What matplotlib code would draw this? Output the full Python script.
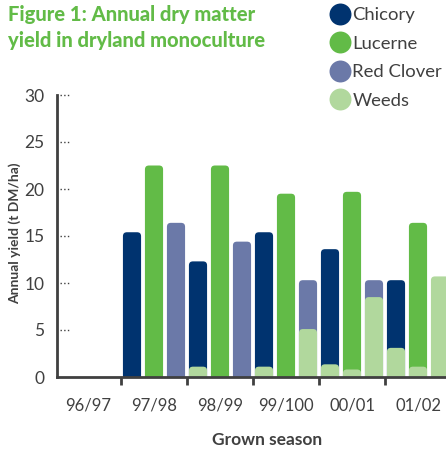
import matplotlib.pyplot as plt
import numpy as np
from matplotlib.patches import FancyBboxPatch
from matplotlib.lines import Line2D

plt.rcParams['font.family'] = ['Lato', 'DejaVu Sans']

# data (t DM/ha)
seasons = ['96/97', '97/98', '98/99', '99/100', '00/01', '01/02']
chicory = [0, 15.4, 12.3, 15.4, 13.6, 10.3]
lucerne = [0, 22.5, 22.5, 19.5, 19.7, 16.4]
red_clover = [0, 16.4, 14.4, 10.3, 10.3, 0]
# weeds measured in each crop plot, drawn over the base of that bar
weeds_chicory = [0, 0, 1.1, 1.1, 1.35, 3.1]
weeds_lucerne = [0, 0, 0, 0, 0.8, 1.1]
weeds_clover = [0, 0, 0, 5.1, 8.5, 10.7]

c_chic = '#00336f'
c_luc = '#62bb47'
c_rc = '#6b79a8'
c_weed = '#b1d89d'
grey = '#404040'

fig = plt.figure(figsize=(4.46, 4.49), dpi=100)
ax = fig.add_axes([57/446, 72/449, 389/446, 282/449])

x = np.arange(len(seasons))
w = 0.275
aspect = (30 / 282) / (1 / 66)  # data-y per data-x for equal pixel rounding


def rbar(xc, h, color):
    if h <= 0:
        return
    p = FancyBboxPatch((xc - w/2, -2), w, h + 2,
                       boxstyle='round,pad=0,rounding_size=0.06',
                       mutation_aspect=aspect, fc=color, ec='none',
                       clip_on=True, zorder=2)
    ax.add_patch(p)


crops = [(chicory, weeds_chicory, c_chic),
         (lucerne, weeds_lucerne, c_luc),
         (red_clover, weeds_clover, c_rc)]
for k, (vals, wvals, col) in enumerate(crops):
    for i in range(len(seasons)):
        xc = x[i] + (k + 0.5) / 3
        rbar(xc, vals[i], col)
        rbar(xc, wvals[i], c_weed)

ax.set_xlim(1 - 64/66, 1 + 325/66)
ax.set_ylim(0, 30)

for s in ['top', 'right']:
    ax.spines[s].set_visible(False)
for s in ['left', 'bottom']:
    ax.spines[s].set_color(grey)
    ax.spines[s].set_linewidth(2)
    ax.spines[s].set_zorder(3)

yt = np.arange(0, 31, 5)
ax.set_yticks(yt)
ax.set_yticklabels([str(v) for v in yt], fontsize=12.5, color=grey)
ax.tick_params(axis='y', length=0, pad=9)
for v in yt[1:]:
    ax.plot([0.008, 0.03], [v, v], ls=':', lw=1, color=grey,
            transform=ax.get_yaxis_transform(), clip_on=False)

ax.set_xticks(x + 0.5)
ax.set_xticklabels(seasons, fontsize=12, color=grey)
ax.set_xticks(x[1:], minor=True)
ax.tick_params(axis='x', which='major', length=0, pad=15)
ax.tick_params(axis='x', which='minor', length=6, width=2, color=grey)

ax.set_ylabel('Annual yield (t DM/ha)', fontsize=10, fontweight='bold',
              color=grey, va='center')
ax.yaxis.set_label_coords((15 - 57) / 389, (377 - 233) / 282)
ax.set_xlabel('Grown season', fontsize=12.5, fontweight='bold', color=grey,
              va='center')
ax.xaxis.set_label_coords((267 - 57) / 389, -(440 - 377) / 282)

fig.text(8/446, 1 - 15/449, 'Figure 1: Annual dry matter', fontsize=14.5,
         fontweight='black', color=c_luc, va='center')
fig.text(8/446, 1 - 41/449, 'yield in dryland monoculture', fontsize=14.5,
         fontweight='black', color=c_luc, va='center')

handles = [Line2D([], [], ls='none', marker='o', ms=15.8, mfc=c, mec='none')
           for c in [c_chic, c_luc, c_rc, c_weed]]
fig.legend(handles, ['Chicory', 'Lucerne', 'Red Clover', 'Weeds'],
           loc='upper left', bbox_to_anchor=(320/446, 1.005), frameon=False,
           fontsize=13.3, labelcolor=grey, handletextpad=0.1,
           handlelength=1.15, labelspacing=0.68, borderaxespad=0.1)

fig.savefig('out.png', dpi=100)
